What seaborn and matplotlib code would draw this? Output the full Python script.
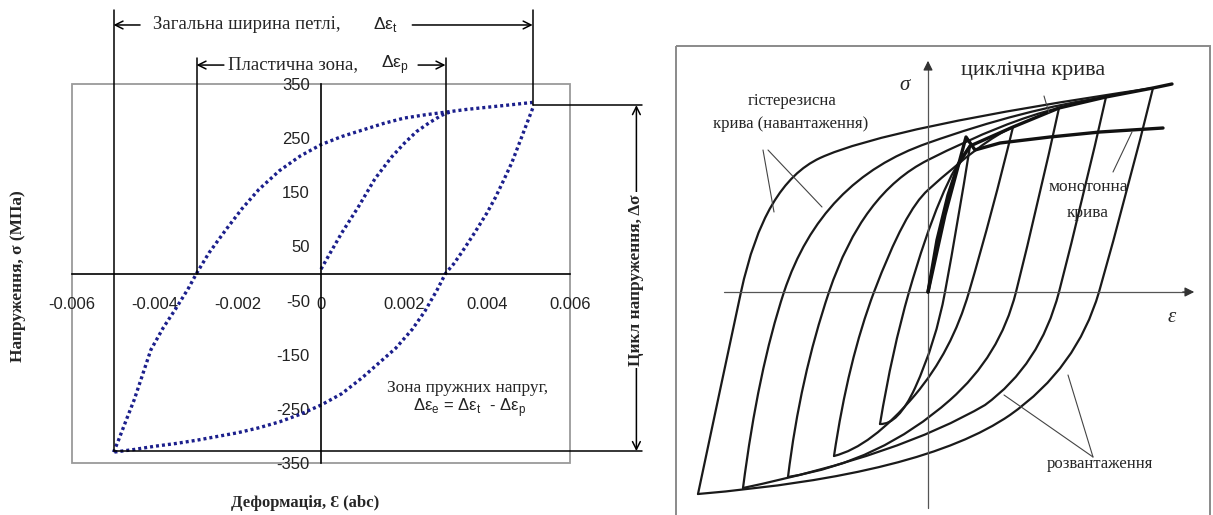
import numpy as np
import pandas as pd
import seaborn as sns
import matplotlib.pyplot as plt
from matplotlib.patches import Rectangle, PathPatch
from matplotlib.path import Path
from matplotlib.ticker import FixedLocator, FixedFormatter

# ---- left chart: measured hysteresis loop ----
eps_init = [0.0000, 0.0002, 0.0005, 0.0009, 0.0013, 0.0017, 0.0020, 0.0023, 0.0026, 0.0029, 0.0031]
sig_init = [8, 35, 75, 123, 175, 215, 240, 262, 278, 292, 298]

eps_load = [-0.0050, -0.0049, -0.0047, -0.0045, -0.0043, -0.0041, -0.0038, -0.0035, -0.0032,
            -0.0030, -0.0027, -0.0023, -0.0019, -0.0015, -0.0010, -0.0005, 0.0000, 0.0005,
            0.0010, 0.0015, 0.0020, 0.0025, 0.0030, 0.0035, 0.0040, 0.0045, 0.0051]
sig_load = [-330, -312, -272, -233, -187, -141, -100, -65, -28, 0, 38, 80, 120, 155, 190, 217,
            238, 253, 265, 277, 287, 293, 298, 303, 307, 311, 316]

eps_unl = [0.0051, 0.0050, 0.0048, 0.0046, 0.0044, 0.0042, 0.0040, 0.0037, 0.0034, 0.0032,
           0.0030, 0.0028, 0.0025, 0.0022, 0.0018, 0.0014, 0.0010, 0.0005, 0.0000, -0.0005,
           -0.0010, -0.0015, -0.0020, -0.0025, -0.0030, -0.0035, -0.0040, -0.0045, -0.0050]
sig_unl = [305, 285, 245, 205, 172, 140, 112, 75, 40, 18, 0, -30, -70, -103, -138, -165, -192,
           -222, -243, -260, -274, -285, -294, -301, -308, -314, -319, -325, -330]

x_ticks = [-0.006, -0.004, -0.002, 0.0, 0.002, 0.004, 0.006]
x_labels = ['-0.006', '-0.004', '-0.002', '0', '0.002', '0.004', '0.006']
y_ticks = [-350, -250, -150, -50, 50, 150, 250, 350]
y_labels = ['-350', '-250', '-150', '-50', '50', '150', '250', '350']

eps_t = (-0.005, 0.0051)    # total loop width
eps_p = (-0.003, 0.003)     # plastic zone
sig_range = (-328, 311)     # stress range

# ---- right chart: schematic, image pixel coordinates ----
# each branch: start, ctrl, node, ctrl, node, ... end  (quadratic Bezier chain)
load_branches = [
    [(698, 494), (720, 390), (741, 292), (764, 184), (820, 158), (887, 127), (1153, 88)],
    [(743, 488), (758, 371), (784, 292), (821, 180), (928, 143), (1024, 109), (1106, 97)],
    [(788, 477), (800, 378), (829, 292), (862, 193), (928, 160), (1005, 121), (1059, 108)],
    [(834, 456), (848, 361), (874, 292), (905, 210), (928, 190), (983, 140), (1013, 127)],
    [(880, 424), (892, 351), (909, 292), (941, 181), (970, 146)],
]
unload_branches = [
    [(1153, 88), (1128, 190), (1099, 292), (1077, 368), (1010, 415), (923, 475), (698, 494)],
    [(1106, 97), (1084, 195), (1059, 292), (1040, 365), (985, 405), (900, 455), (743, 488)],
    [(1059, 108), (1039, 200), (1016, 292), (1000, 356), (950, 400), (880, 462), (788, 477)],
    [(1013, 127), (993, 210), (969, 292), (952, 351), (915, 395), (871, 447), (834, 456)],
    [(970, 146), (958, 222), (945, 292), (936, 342), (915, 388), (898, 425), (880, 424)],
]
cyclic_curve = [(928, 292), (937, 240), (948, 195), (958, 165), (970, 146), (1013, 127),
                (1059, 108), (1106, 97), (1153, 88), (1172, 84)]
monotonic_curve = [(928, 292), (945, 215), (966, 137), (975, 150), (1000, 143), (1050, 137),
                   (1100, 132), (1163, 128)]
pointer_lines = [
    [(763, 150), (774, 212)], [(768, 150), (822, 207)],      # hysteresis
    [(1044, 96), (1049, 113)],                               # cyclic
    [(1113, 172), (1132, 132)],                              # monotonic
    [(1093, 457), (1004, 395)], [(1093, 457), (1068, 375)],  # unloading
]
origin = (928, 292)

sns.set_theme(style="white")
plt.rcParams['font.family'] = ['Liberation Sans', 'DejaVu Sans']
plt.rcParams['axes.unicode_minus'] = False

fig = plt.figure(figsize=(12.13, 5.15), dpi=100)
W, H = 1213, 515

# ================= left chart =================
ax = fig.add_axes([72 / W, 52 / H, 498 / W, 379 / H])
navy = '#1b1f8c'
dots = dict(color=navy, lw=2.4, linestyle=(0, (0.9, 0.9)), sort=False, estimator=None, ax=ax)
sns.lineplot(x=eps_init, y=sig_init, **dots)
sns.lineplot(x=eps_load, y=sig_load, **dots)
sns.lineplot(x=eps_unl, y=sig_unl, **dots)

ax.set_xlim(-0.006, 0.006)
ax.set_ylim(-350, 350)
ax.add_patch(Rectangle((0, 0), 1, 1, transform=ax.transAxes, fill=False,
                       ec='#9a9a9a', lw=1.3, clip_on=False, zorder=0))
for s in ['top', 'right']:
    ax.spines[s].set_visible(False)
ax.spines['left'].set_position(('data', 0))
ax.spines['bottom'].set_position(('data', 0))
for s in ['left', 'bottom']:
    ax.spines[s].set_color('black')
    ax.spines[s].set_linewidth(1.2)
ax.xaxis.set_major_locator(FixedLocator(x_ticks))
ax.xaxis.set_major_formatter(FixedFormatter(x_labels))
ax.xaxis.set_minor_locator(FixedLocator(np.arange(-0.005, 0.0051, 0.002)))
ax.yaxis.set_major_locator(FixedLocator(y_ticks))
ax.yaxis.set_major_formatter(FixedFormatter(y_labels))
ax.yaxis.set_minor_locator(FixedLocator(np.arange(-300, 301, 100)))
ax.tick_params(axis='both', which='both', direction='out', color='black', width=1.1,
               labelsize=12, labelcolor='#222222')
ax.tick_params(which='major', length=5, pad=3)
ax.tick_params(which='minor', length=4)
ax.tick_params(axis='x', pad=12)
for t in ax.get_xticklabels() + ax.get_yticklabels():
    t.set_fontfamily(['Liberation Sans Narrow', 'Liberation Sans'])
ax.set_xlabel('')
ax.set_ylabel('')

serif = ['Liberation Serif', 'DejaVu Serif']
line_kw = dict(color='black', lw=1.1, clip_on=False)
arr_kw = dict(arrowstyle='->', lw=1.1, color='black', mutation_scale=14, shrinkA=0, shrinkB=0)

# guide lines
ax.plot([eps_t[0], eps_t[0]], [487, sig_range[0]], **line_kw)
ax.plot([eps_t[1], eps_t[1]], [487, sig_range[1]], **line_kw)
ax.plot([eps_p[0], eps_p[0]], [398, 0], **line_kw)
ax.plot([eps_p[1], eps_p[1]], [398, 0], **line_kw)
ax.plot([eps_t[1], 0.00774], [sig_range[1], sig_range[1]], **line_kw)
ax.plot([eps_t[0], 0.00774], [sig_range[0], sig_range[0]], **line_kw)

# total width
ax.annotate('', xy=(eps_t[0], 459), xytext=(-0.00436, 459), arrowprops=arr_kw, annotation_clip=False)
ax.annotate('', xy=(eps_t[1], 459), xytext=(0.0022, 459), arrowprops=arr_kw, annotation_clip=False)
ax.text(-0.00405, 459, 'Загальна ширина петлі,', family=serif, fontsize=13.5, ha='left', va='center')
ax.text(0.00125, 459, r'Δε$_\mathregular{t}$', fontsize=12.5, ha='left', va='center', color='#222222')

# plastic zone
ax.annotate('', xy=(eps_p[0], 385), xytext=(-0.00234, 385), arrowprops=arr_kw, annotation_clip=False)
ax.annotate('', xy=(eps_p[1], 385), xytext=(0.00234, 385), arrowprops=arr_kw, annotation_clip=False)
ax.text(-0.00224, 385, 'Пластична зона,', family=serif, fontsize=13.5, ha='left', va='center')
ax.text(0.00145, 385, r'Δε$_\mathregular{p}$', fontsize=12.5, ha='left', va='center', color='#222222')

# stress range
ax.annotate('', xy=(0.0076, sig_range[1]), xytext=(0.0076, sig_range[0]),
            arrowprops=dict(arr_kw, arrowstyle='<->'), annotation_clip=False)
ax.text(0.0076, -12, 'Цикл напруження, Δσ', family=serif, fontsize=12.5, fontweight='bold',
        rotation=90, ha='center', va='center', clip_on=False,
        bbox=dict(fc='white', ec='none', pad=1.5))

# elastic zone
ax.text(0.00352, -211, 'Зона пружних напруг,', family=serif, fontsize=12.5, ha='center', va='center')
ax.text(0.00359, -247, r'Δε$_\mathregular{e}$ = Δε$_\mathregular{t}$  - Δε$_\mathregular{p}$',
        fontsize=12, ha='center', va='center', color='#222222')

# axis titles
fig.text(18 / W, 1 - 276 / H, 'Напруження, σ (МПа)', family=serif, fontsize=12.5,
         fontweight='bold', rotation=90, ha='center', va='center')
fig.text(305 / W, 1 - 503 / H, 'Деформація, Ɛ (abc)', family=serif, fontsize=12,
         fontweight='bold', ha='center', va='center')

# ================= right chart =================
ax2 = fig.add_axes([674 / W, 0, (W - 674) / W, 1])
ax2.set_axis_off()
ax2.add_patch(Rectangle((676, 46), 534, 500, fill=False, ec='#8a8a8a', lw=1.4, clip_on=False))

ax2.plot([origin[0], origin[0]], [508, 66], color='#555555', lw=0.9)
ax2.plot([724, 1186], [origin[1], origin[1]], color='#555555', lw=0.9)
ax2.annotate('', xy=(origin[0], 58), xytext=(origin[0], 72),
             arrowprops=dict(arrowstyle='-|>', color='#333333', lw=0.9, mutation_scale=14))
ax2.annotate('', xy=(1197, origin[1]), xytext=(1180, origin[1]),
             arrowprops=dict(arrowstyle='-|>', color='#333333', lw=0.9, mutation_scale=14))

for br in load_branches + unload_branches:
    codes = [Path.MOVETO] + [Path.CURVE3] * (len(br) - 1)
    ax2.add_patch(PathPatch(Path(br, codes), fill=False, ec='#1a1a1a', lw=1.6, capstyle='round'))
for br in [cyclic_curve, monotonic_curve]:
    xs, ys = zip(*br)
    sns.lineplot(x=list(xs), y=list(ys), sort=False, estimator=None, ax=ax2, color='#111111', lw=2.4)
for br in pointer_lines:
    xs, ys = zip(*br)
    ax2.plot(xs, ys, color='#444444', lw=0.8)

ax2.set_xlim(674, W)
ax2.set_ylim(H, 0)

ax2.text(1033, 70, 'циклічна крива', family=serif, fontsize=16, ha='center', va='center')
ax2.text(905, 86, 'σ', family=serif, fontsize=15, style='italic', ha='center', va='center')
ax2.text(1172, 318, 'ε', family=serif, fontsize=15, style='italic', ha='center', va='center')
ax2.text(792, 101, 'гістерезисна', family=serif, fontsize=12, ha='center', va='center')
ax2.text(791, 124, 'крива (навантаження)', family=serif, fontsize=12, ha='center', va='center')
ax2.text(1088, 187, 'монотонна', family=serif, fontsize=12.5, ha='center', va='center')
ax2.text(1088, 213, 'крива', family=serif, fontsize=12.5, ha='center', va='center')
ax2.text(1100, 464, 'розвантаження', family=serif, fontsize=12, ha='center', va='center')

fig.savefig('out.png', dpi=100)
